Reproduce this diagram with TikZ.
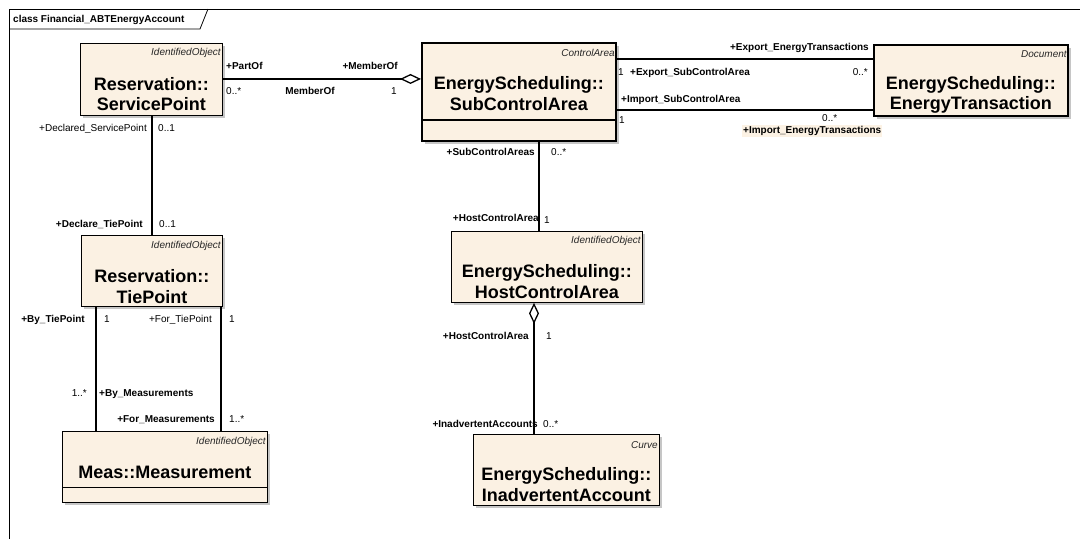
\documentclass[tikz,border=0pt]{standalone}
\usepackage{fontspec}
\setmainfont{Liberation Sans}
\usepackage{tikz}
\usetikzlibrary{calc,arrows.meta,shadows}
\definecolor{classfill}{RGB}{251,241,227}
\definecolor{hilite}{RGB}{252,242,228}
\tikzset{
	classbox/.style={
		draw, rectangle, fill=classfill, line width=0.9pt,
		anchor=north west, inner sep=0pt,
		drop shadow={shadow xshift=3pt, shadow yshift=-3pt, opacity=0.45}
	},
	boldbox/.style={classbox, line width=1.9pt},
	stereo/.style={anchor=east, inner sep=0pt, text=black!85,
		font=\fontsize{10}{11}\selectfont\itshape},
	classname/.style={align=center, inner sep=0pt,
		font=\fontsize{18}{20.5}\selectfont\bfseries},
	role/.style={inner sep=0pt, font=\fontsize{10}{12}\selectfont\bfseries},
	mult/.style={inner sep=0pt, font=\fontsize{10}{12}\selectfont},
	assoc/.style={line width=1.9pt},
	aggr/.style={assoc, -{Diamond[open, length=21pt, width=10pt, line width=1.3pt]}}
}
\begin{document}
\begin{tikzpicture}[x=1pt, y=-1pt]
	\useasboundingbox (0,0) rectangle (1080,539);
	% frame
	\draw[line width=0.8pt] (9,539) -- (9,9) -- (1080,9);
	\draw[line width=0.8pt] (9,29) -- (200,29) -- (208,9);
	\node[role, anchor=base west] (title) at (13,22.5) {class Financial\_ABTEnergyAccount};
	% classes
	\node[classbox, minimum width=142pt, minimum height=72pt] (sp) at (80,43) {};
	\node[stereo] (sp-st) at ([xshift=-2pt,yshift=-10pt]sp.north east) {IdentifiedObject};
	\node[classname] (sp-nm) at ([yshift=-14.5pt]sp.center) {Reservation::\\ServicePoint};
	\node[boldbox, minimum width=194pt, minimum height=98pt] (sca) at (421,42) {};
	\node[stereo] (sca-st) at ([xshift=-2pt,yshift=-11pt]sca.north east) {ControlArea};
	\node[classname] (sca-nm) at ([yshift=-1.5pt]sca.center) {EnergyScheduling::\\SubControlArea};
	\draw[line width=1.4pt] ([yshift=22pt]sca.south west) -- ([yshift=22pt]sca.south east);
	\node[boldbox, minimum width=194pt, minimum height=71pt] (et) at (873,44) {};
	\node[stereo] (et-st) at ([xshift=-2pt,yshift=-10pt]et.north east) {Document};
	\node[classname] (et-nm) at ([yshift=-14.5pt]et.center) {EnergyScheduling::\\EnergyTransaction};
	\node[classbox, minimum width=141pt, minimum height=71pt] (tp) at (81,235) {};
	\node[stereo] (tp-st) at ([xshift=-2pt,yshift=-11pt]tp.north east) {IdentifiedObject};
	\node[classname] (tp-nm) at ([yshift=-15.5pt]tp.center) {Reservation::\\TiePoint};
	\node[classbox, minimum width=205pt, minimum height=71pt] (meas) at (62,431) {};
	\node[stereo] (meas-st) at ([xshift=-2pt,yshift=-11pt]meas.north east) {IdentifiedObject};
	\node[classname] (meas-nm) at ([yshift=-5.5pt]meas.center) {Meas::Measurement};
	\draw ([yshift=16pt]meas.south west) -- ([yshift=16pt]meas.south east);
	\node[classbox, minimum width=191pt, minimum height=71pt] (hca) at (451,231) {};
	\node[stereo] (hca-st) at ([xshift=-2pt,yshift=-10pt]hca.north east) {IdentifiedObject};
	\node[classname] (hca-nm) at ([yshift=-14.5pt]hca.center) {EnergyScheduling::\\HostControlArea};
	\node[classbox, minimum width=186pt, minimum height=71pt] (ia) at (473,434) {};
	\node[stereo] (ia-st) at ([xshift=-2pt,yshift=-11pt]ia.north east) {Curve};
	\node[classname] (ia-nm) at ([yshift=-14.5pt]ia.center) {EnergyScheduling::\\InadvertentAccount};
	% associations
	\coordinate (member-end) at ([yshift=0.5pt]sp.east);
	\coordinate (declare-top) at ([xshift=0.5pt]sp.south);
	\coordinate (by-top) at ([xshift=15pt]tp.south west);
	\coordinate (for-top) at ([xshift=-2pt]tp.south east);
	\coordinate (sub-bot) at ([xshift=118pt]sca.south west);
	\coordinate (host-bot) at ([xshift=83pt]hca.south west);
	\draw[aggr] (member-end) -- (member-end -| sca.west);
	\draw[assoc] ([yshift=-17pt]sca.north east) -- ([yshift=-15pt]et.north west);
	\draw[assoc] ([yshift=32pt]sca.south east) -- ([yshift=7pt]et.south west);
	\draw[assoc] (declare-top) -- (declare-top |- tp.north);
	\draw[assoc] (by-top) -- (by-top |- meas.north);
	\draw[assoc] (for-top) -- (for-top |- meas.north);
	\draw[assoc] (sub-bot) -- (sub-bot |- hca.north);
	\draw[aggr] (host-bot |- ia.north) -- (host-bot);
	% end labels
	\node[role, anchor=base west] (l-partof) at (226,69.5) {+PartOf};
	\node[mult, anchor=base west] (m-partof) at (226,94.5) {0..*};
	\node[role, anchor=base] (l-memberof) at (310,94.5) {MemberOf};
	\node[role, anchor=base east] (l-member) at (398,69.5) {+MemberOf};
	\node[mult, anchor=base east] (m-member) at (397,94.5) {1};
	\node[role, anchor=base east] (l-expet) at (869,50.5) {+Export\_EnergyTransactions};
	\node[mult, anchor=base west] (m-expsca) at (618,75.5) {1};
	\node[role, anchor=base west] (l-expsca) at (630,75.5) {+Export\_SubControlArea};
	\node[mult, anchor=base east] (m-expet) at (868,75.5) {0..*};
	\node[role, anchor=base west] (l-impsca) at (621,102.5) {+Import\_SubControlArea};
	\node[mult, anchor=base west] (m-impsca) at (619,123.5) {1};
	\node[mult, anchor=base west] (m-impet) at (822,121.5) {0..*};
	\node[role, anchor=base west, fill=hilite, inner sep=1pt] (l-impet) at (742,133.5) {+Import\_EnergyTransactions};
	\node[mult, anchor=base east] (l-declsp) at (147,131.5) {+Declared\_ServicePoint};
	\node[mult, anchor=base west] (m-declsp) at (158,131.5) {0..1};
	\node[role, anchor=base east] (l-decltp) at (143,227.5) {+Declare\_TiePoint};
	\node[mult, anchor=base west] (m-decltp) at (159,227.5) {0..1};
	\node[role, anchor=base east] (l-bytp) at (85,322.5) {+By\_TiePoint};
	\node[mult, anchor=base west] (m-bytp) at (104,322.5) {1};
	\node[mult, anchor=base east] (l-fortp) at (212,322.5) {+For\_TiePoint};
	\node[mult, anchor=base west] (m-fortp) at (229,322.5) {1};
	\node[mult, anchor=base east] (m-bymeas) at (87,396.5) {1..*};
	\node[role, anchor=base west] (l-bymeas) at (99,396.5) {+By\_Measurements};
	\node[role, anchor=base east] (l-formeas) at (215,422.5) {+For\_Measurements};
	\node[mult, anchor=base west] (m-formeas) at (229,422.5) {1..*};
	\node[role, anchor=base east] (l-subs) at (535,155.5) {+SubControlAreas};
	\node[mult, anchor=base west] (m-subs) at (551,155.5) {0..*};
	\node[role, anchor=base east] (l-host) at (539,221.5) {+HostControlArea};
	\node[mult, anchor=base west] (m-host) at (544,223.5) {1};
	\node[role, anchor=base east] (l-host2) at (529,339.5) {+HostControlArea};
	\node[mult, anchor=base west] (m-host2) at (546,339.5) {1};
	\node[role, anchor=base east] (l-ia) at (538,427.5) {+InadvertentAccounts};
	\node[mult, anchor=base west] (m-ia) at (543,427.5) {0..*};
\end{tikzpicture}
\end{document}
